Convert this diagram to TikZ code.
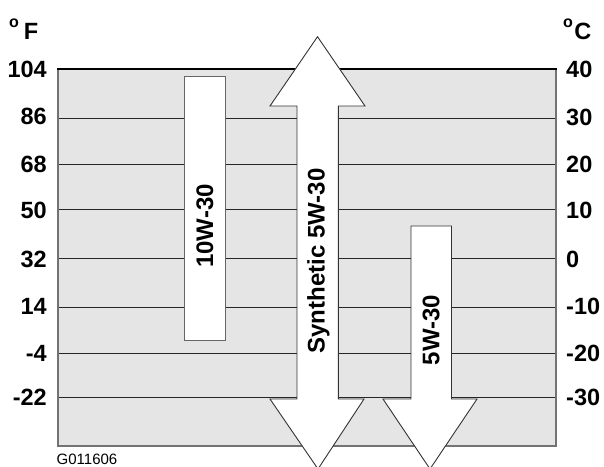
\documentclass[tikz,border=0pt]{standalone}
\usepackage{fontspec}
\setmainfont{Liberation Sans}
\begin{document}
\begin{tikzpicture}[x=1pt,y=-1pt,
  lbl/.style={font=\fontsize{23.5}{26}\selectfont\bfseries, inner sep=0pt},
  barlbl/.style={font=\fontsize{24}{26}\selectfont\bfseries, inner sep=0pt, rotate=90},
  gridline/.style={draw=black!85, line width=1pt},
  whiteshape/.style={fill=white, draw=black!80, line width=0.9pt, line join=miter}
]
\useasboundingbox (0,0) rectangle (604,466);
\clip (0,0) rectangle (604,466);
% chart area
\fill[fill=black!10] (58,69) rectangle (556,446);
\foreach \y in {118,164,209.5,258.7,307.3,353,397}
  \draw[gridline] (58,\y) -- (556,\y);
\draw[draw=black!55, line width=1.6pt] (58,69) -- (58,446) -- (556,446) -- (556,69);
\draw[draw=black, line width=2.2pt] (57,69) -- (557,69);
% 10W-30 bar
\draw[whiteshape, draw=black!60] (184,76) rectangle (225.5,340);
% 5W-30 arrow
\draw[whiteshape] (411,226) -- (451.5,226) -- (451.5,399) -- (477,399) -- (430,469) -- (383,399) -- (411,399) -- cycle;
% Synthetic 5W-30 double arrow
\draw[whiteshape] (317.5,36.7) -- (365,106) -- (338.3,106) -- (338.3,399) -- (364,399) -- (318,469) -- (270,399) -- (297,399) -- (297,106) -- (270,106) -- cycle;
% bar labels
\node[barlbl] (l10w) at (205,226) {10W-30};
\node[barlbl] (lsyn) at (318.5,261) {Synthetic 5W-30};
\node[barlbl] (l5w) at (431,330) {5W-30};
% Fahrenheit scale
\node[lbl, anchor=east] (f104) at (47,69) {104};
\node[lbl, anchor=east] (f86) at (47,116.5) {86};
\node[lbl, anchor=east] (f68) at (47,164.5) {68};
\node[lbl, anchor=east] (f50) at (47,210) {50};
\node[lbl, anchor=east] (f32) at (47,259) {32};
\node[lbl, anchor=east] (f14) at (47,306.7) {14};
\node[lbl, anchor=east] (fm4) at (47,353) {-4};
\node[lbl, anchor=east] (fm22) at (47,397) {-22};
% Celsius scale
\node[lbl, anchor=west] (c40) at (566,69) {40};
\node[lbl, anchor=west] (c30) at (566,117) {30};
\node[lbl, anchor=west] (c20) at (566,164.5) {20};
\node[lbl, anchor=west] (c10) at (566,210) {10};
\node[lbl, anchor=west] (c0) at (566,259) {0};
\node[lbl, anchor=west] (cm10) at (566,306.7) {-10};
\node[lbl, anchor=west] (cm20) at (566,353) {-20};
\node[lbl, anchor=west] (cm30) at (566,397) {-30};
% unit headers
\node[lbl, anchor=base west] (degF) at (9,39) {\raisebox{12pt}{\fontsize{16}{16}\selectfont o}\hspace{5pt}F};
\node[lbl, anchor=base west] (degC) at (563,39) {\raisebox{12pt}{\fontsize{16}{16}\selectfont o}\hspace{1.5pt}C};
% figure id
\node[font=\fontsize{15}{16}\selectfont, inner sep=0pt, anchor=base west] (gid) at (56.5,464) {G011606};
\end{tikzpicture}
\end{document}
